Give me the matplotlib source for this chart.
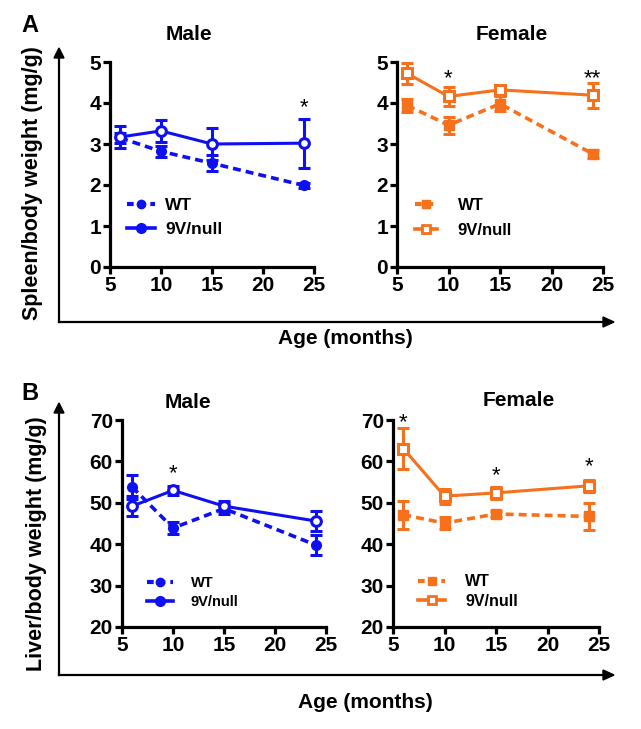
import matplotlib
matplotlib.use("Agg")
import matplotlib.pyplot as plt
from matplotlib.lines import Line2D

plt.rcParams['font.family'] = ['Liberation Sans', 'DejaVu Sans']
plt.rcParams['font.weight'] = 'bold'

BLUE = '#0f10f2'
ORANGE = '#f7701c'

ages = [6, 10, 15, 24]

# Panel A: spleen/body weight (mg/g)
spleen_m_wt = [3.15, 2.82, 2.53, 1.99]
spleen_m_wt_err = [0.12, 0.13, 0.2, 0.07]
spleen_m_9v = [3.17, 3.32, 3.0, 3.02]
spleen_m_9v_err = [0.27, 0.26, 0.4, 0.6]

spleen_f_wt = [3.94, 3.46, 3.98, 2.76]
spleen_f_wt_err = [0.15, 0.21, 0.18, 0.1]
spleen_f_9v = [4.72, 4.16, 4.32, 4.19]
spleen_f_9v_err = [0.26, 0.24, 0.12, 0.3]

# Panel B: liver/body weight (mg/g)
liver_m_wt = [53.8, 43.9, 48.6, 39.8]
liver_m_wt_err = [3.0, 1.5, 1.4, 2.5]
liver_m_9v = [49.2, 53.0, 49.2, 45.6]
liver_m_9v_err = [2.5, 1.0, 1.2, 2.3]

liver_f_wt = [47.1, 45.1, 47.3, 46.7]
liver_f_wt_err = [3.4, 1.5, 0.8, 3.2]
liver_f_9v = [63.1, 51.6, 52.4, 54.1]
liver_f_9v_err = [5.0, 1.8, 1.4, 1.5]

# significance stars: (x, y, text)
stars_a_m = [(24, 3.88, '*')]
stars_a_f = [(10, 4.6, '*'), (24, 4.6, '**')]
stars_b_m = [(10, 57.0, '*')]
stars_b_f = [(6, 69.3, '*'), (15, 56.5, '*'), (24, 58.7, '*')]

W, H = 641, 729
fig = plt.figure(figsize=(W / 100, H / 100), dpi=100)


def fx(px):
    return px / W


def fy(py):
    return 1 - py / H


def make_ax(l, r, t, b):
    return fig.add_axes([fx(l), fy(b), fx(r) - fx(l), fy(t) - fy(b)])


def style(ax, ylim, yticks):
    ax.set_xlim(5, 25)
    ax.set_ylim(*ylim)
    ax.set_xticks([5, 10, 15, 20, 25])
    ax.set_yticks(yticks)
    for s in ['top', 'right']:
        ax.spines[s].set_visible(False)
    for s in ['left', 'bottom']:
        ax.spines[s].set_linewidth(2.3)
    ax.tick_params(width=2.3, length=5, labelsize=15, pad=1.5)
    for lab in ax.get_xticklabels() + ax.get_yticklabels():
        lab.set_fontweight('bold')
    ax.patch.set_alpha(0)


def draw(ax, wt, wt_err, kv, kv_err, color, marker, legend_kv_face, stars, leg):
    dash = (0, (2.2, 1.4))
    ax.errorbar(ages, wt, yerr=wt_err, color=color, ls=dash, lw=2.6,
                marker=marker, ms=7, mfc=color, mec=color, elinewidth=2.2,
                capsize=4, capthick=2.2, clip_on=False, zorder=3)
    ax.errorbar(ages, kv, yerr=kv_err, color=color, ls='-', lw=2.2,
                marker=marker, ms=7, mfc='white', mec=color, mew=2.2,
                elinewidth=2.2, capsize=4, capthick=2.2, clip_on=False, zorder=4)
    for x, y, t in stars:
        ax.text(x, y, t, ha='center', va='center', fontsize=16, fontweight='normal')
    h1 = Line2D([], [], color=color, ls=(0, (1.6, 1.2)), lw=3.0, marker=marker, ms=6,
                mfc=color, mec=color)
    h2 = Line2D([], [], color=color, ls='-', lw=2.6, marker=marker, ms=6,
                mfc=legend_kv_face, mec=color, mew=2.0)
    x0, ymid, fs, hl, hp, ls = leg
    lg = ax.legend([h1, h2], ['WT', '9V/null'], loc='center left',
                   bbox_to_anchor=(fx(x0), fy(ymid)), bbox_transform=fig.transFigure,
                   frameon=False, fontsize=fs, handlelength=hl, handletextpad=hp,
                   labelspacing=ls, borderpad=0, borderaxespad=0)
    for t in lg.get_texts():
        t.set_fontweight('bold')


# Panel A
axAm = make_ax(110, 314, 62, 267)
style(axAm, (0, 5), [0, 1, 2, 3, 4, 5])
draw(axAm, spleen_m_wt, spleen_m_wt_err, spleen_m_9v, spleen_m_9v_err, BLUE, 'o', BLUE,
     stars_a_m, (127, 217.5, 12.5, 1.6, 0.6, 0.52))

axAf = make_ax(397, 603, 62, 267)
style(axAf, (0, 5), [0, 1, 2, 3, 4, 5])
draw(axAf, spleen_f_wt, spleen_f_wt_err, spleen_f_9v, spleen_f_9v_err, ORANGE, 's', 'white',
     stars_a_f, (415, 218, 12, 1.35, 1.2, 0.62))

# Panel B
axBm = make_ax(122, 326, 420, 627)
style(axBm, (20, 70), [20, 30, 40, 50, 60, 70])
draw(axBm, liver_m_wt, liver_m_wt_err, liver_m_9v, liver_m_9v_err, BLUE, 'o', BLUE,
     stars_b_m, (147, 592.5, 10.5, 1.75, 1.25, 0.36))

axBf = make_ax(393, 599, 420, 627)
style(axBf, (20, 70), [20, 30, 40, 50, 60, 70])
draw(axBf, liver_f_wt, liver_f_wt_err, liver_f_9v, liver_f_9v_err, ORANGE, 's', 'white',
     stars_b_f, (418, 591.5, 11.5, 1.7, 1.25, 0.3))

# Titles
fig.text(fx(189), fy(35), 'Male', ha='center', va='center', fontsize=15, fontweight='bold')
fig.text(fx(512), fy(35), 'Female', ha='center', va='center', fontsize=15, fontweight='bold')
fig.text(fx(188), fy(402), 'Male', ha='center', va='center', fontsize=15, fontweight='bold')
fig.text(fx(519), fy(400), 'Female', ha='center', va='center', fontsize=15, fontweight='bold')

# Panel letters
fig.text(fx(30), fy(25), 'A', ha='center', va='center', fontsize=17, fontweight='bold')
fig.text(fx(30), fy(394), 'B', ha='center', va='center', fontsize=17, fontweight='bold')

# Big arrow axes
for (y0, ytop) in [(322, 48), (675, 403)]:
    fig.add_artist(Line2D([fx(59), fx(59)], [fy(y0), fy(ytop + 8)], color='black', lw=1.6))
    fig.add_artist(Line2D([fx(59), fx(605)], [fy(y0), fy(y0)], color='black', lw=1.6))
    fig.patches.append(plt.Polygon([[fx(54), fy(ytop + 10)], [fx(64), fy(ytop + 10)], [fx(59), fy(ytop)]],
                                   closed=True, color='black', transform=fig.transFigure))
    fig.patches.append(plt.Polygon([[fx(603), fy(y0 - 5)], [fx(603), fy(y0 + 5)], [fx(614), fy(y0)]],
                                   closed=True, color='black', transform=fig.transFigure))

fig.text(fx(345), fy(338), 'Age (months)', ha='center', va='center', fontsize=15, fontweight='bold')
fig.text(fx(365), fy(703), 'Age (months)', ha='center', va='center', fontsize=15, fontweight='bold')
fig.text(fx(33), fy(183), 'Spleen/body weight (mg/g)', ha='center', va='center', rotation=90,
         fontsize=15.5, fontweight='bold')
fig.text(fx(37), fy(544), 'Liver/body weight (mg/g)', ha='center', va='center', rotation=90,
         fontsize=15.5, fontweight='bold')

fig.savefig('out.png', dpi=100)
